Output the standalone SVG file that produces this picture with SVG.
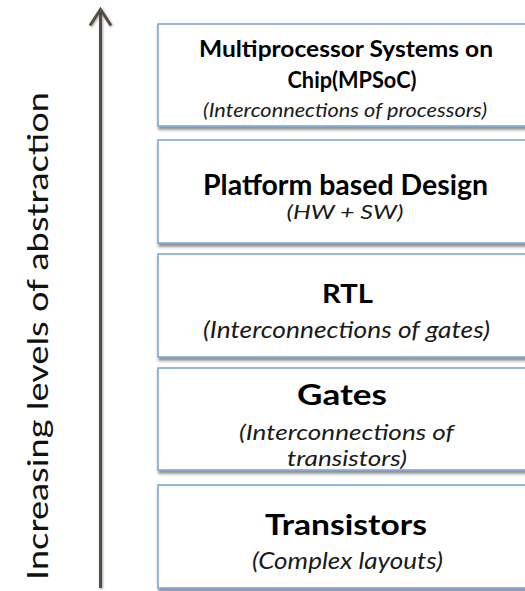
<svg xmlns="http://www.w3.org/2000/svg" width="525" height="591" viewBox="0 0 525 591">
<style>
.box{fill:#ffffff;stroke:#7ea6d7;stroke-width:1.6;filter:url(#sh)}
.t{font-family:Lato,"Open Sans","Liberation Sans",sans-serif;font-weight:bold;fill:#000;text-anchor:middle}
.i{font-family:Lato,"Open Sans","Liberation Sans",sans-serif;font-style:italic;fill:#1a1a1a;text-anchor:middle}
.ax{stroke:#574d42;stroke-width:3;fill:none}
.lab{font-family:Lato,"Open Sans","Liberation Sans",sans-serif;fill:#111;text-anchor:middle}
</style>
<defs>
<filter id="sh" x="-5%" y="-10%" width="115%" height="125%">
<feDropShadow dx="1" dy="3" stdDeviation="1.6" flood-color="#000" flood-opacity="0.45"/>
</filter>
<filter id="ash" filterUnits="userSpaceOnUse" x="80" y="0" width="45" height="591">
<feDropShadow dx="1" dy="1" stdDeviation="1" flood-color="#000" flood-opacity="0.35"/>
</filter>
<marker id="head" markerUnits="userSpaceOnUse" markerWidth="40" markerHeight="40" refX="0" refY="0" viewBox="-20 -20 40 40" orient="auto" overflow="visible">
<path d="M-16,-10.5 L0,0 L-16,10.5" fill="none" stroke="#574d42" stroke-width="3" stroke-linejoin="miter"/>
</marker>
</defs>
<g id="connectors" filter="url(#ash)">
<path class="ax" d="M100.5,588 L100.5,9.5" marker-end="url(#head)"/>
</g>
<text class="lab" font-size="29" x="48" y="336" transform="rotate(-90 48 336)" textLength="488" lengthAdjust="spacingAndGlyphs">Increasing levels of abstraction</text>
<g id="mpsoc">
<rect class="box" x="158" y="24" width="376" height="102"/>
<text class="t" font-size="22.5" x="346" y="57" textLength="294" lengthAdjust="spacingAndGlyphs">Multiprocessor Systems on</text>
<text class="t" font-size="22.5" x="352" y="88" textLength="129" lengthAdjust="spacingAndGlyphs">Chip(MPSoC)</text>
<text class="i" font-size="19" x="345" y="117" textLength="284" lengthAdjust="spacingAndGlyphs">(Interconnections of processors)</text>
</g>
<g id="platform">
<rect class="box" x="158" y="140" width="376" height="103"/>
<text class="t" font-size="28" x="345.5" y="195" textLength="285" lengthAdjust="spacingAndGlyphs">Platform based Design</text>
<text class="i" font-size="20" x="345" y="219" textLength="117" lengthAdjust="spacingAndGlyphs">(HW + SW)</text>
</g>
<g id="rtl">
<rect class="box" x="158" y="254" width="376" height="103"/>
<text class="t" font-size="27.5" x="347.5" y="303" textLength="51" lengthAdjust="spacingAndGlyphs">RTL</text>
<text class="i" font-size="23" x="346.5" y="338" textLength="287" lengthAdjust="spacingAndGlyphs">(Interconnections of gates)</text>
</g>
<g id="gates">
<rect class="box" x="158" y="368" width="376" height="102"/>
<text class="t" font-size="28" x="342" y="405" textLength="90" lengthAdjust="spacingAndGlyphs">Gates</text>
<text class="i" font-size="22" x="346.5" y="440" textLength="215" lengthAdjust="spacingAndGlyphs">(Interconnections of</text>
<text class="i" font-size="22" x="347" y="466" textLength="120" lengthAdjust="spacingAndGlyphs">transistors)</text>
</g>
<g id="transistors">
<rect class="box" x="158" y="485" width="376" height="103"/>
<text class="t" font-size="28" x="346" y="535" textLength="162" lengthAdjust="spacingAndGlyphs">Transistors</text>
<text class="i" font-size="23" x="347.5" y="569" textLength="191" lengthAdjust="spacingAndGlyphs">(Complex layouts)</text>
</g>
</svg>
